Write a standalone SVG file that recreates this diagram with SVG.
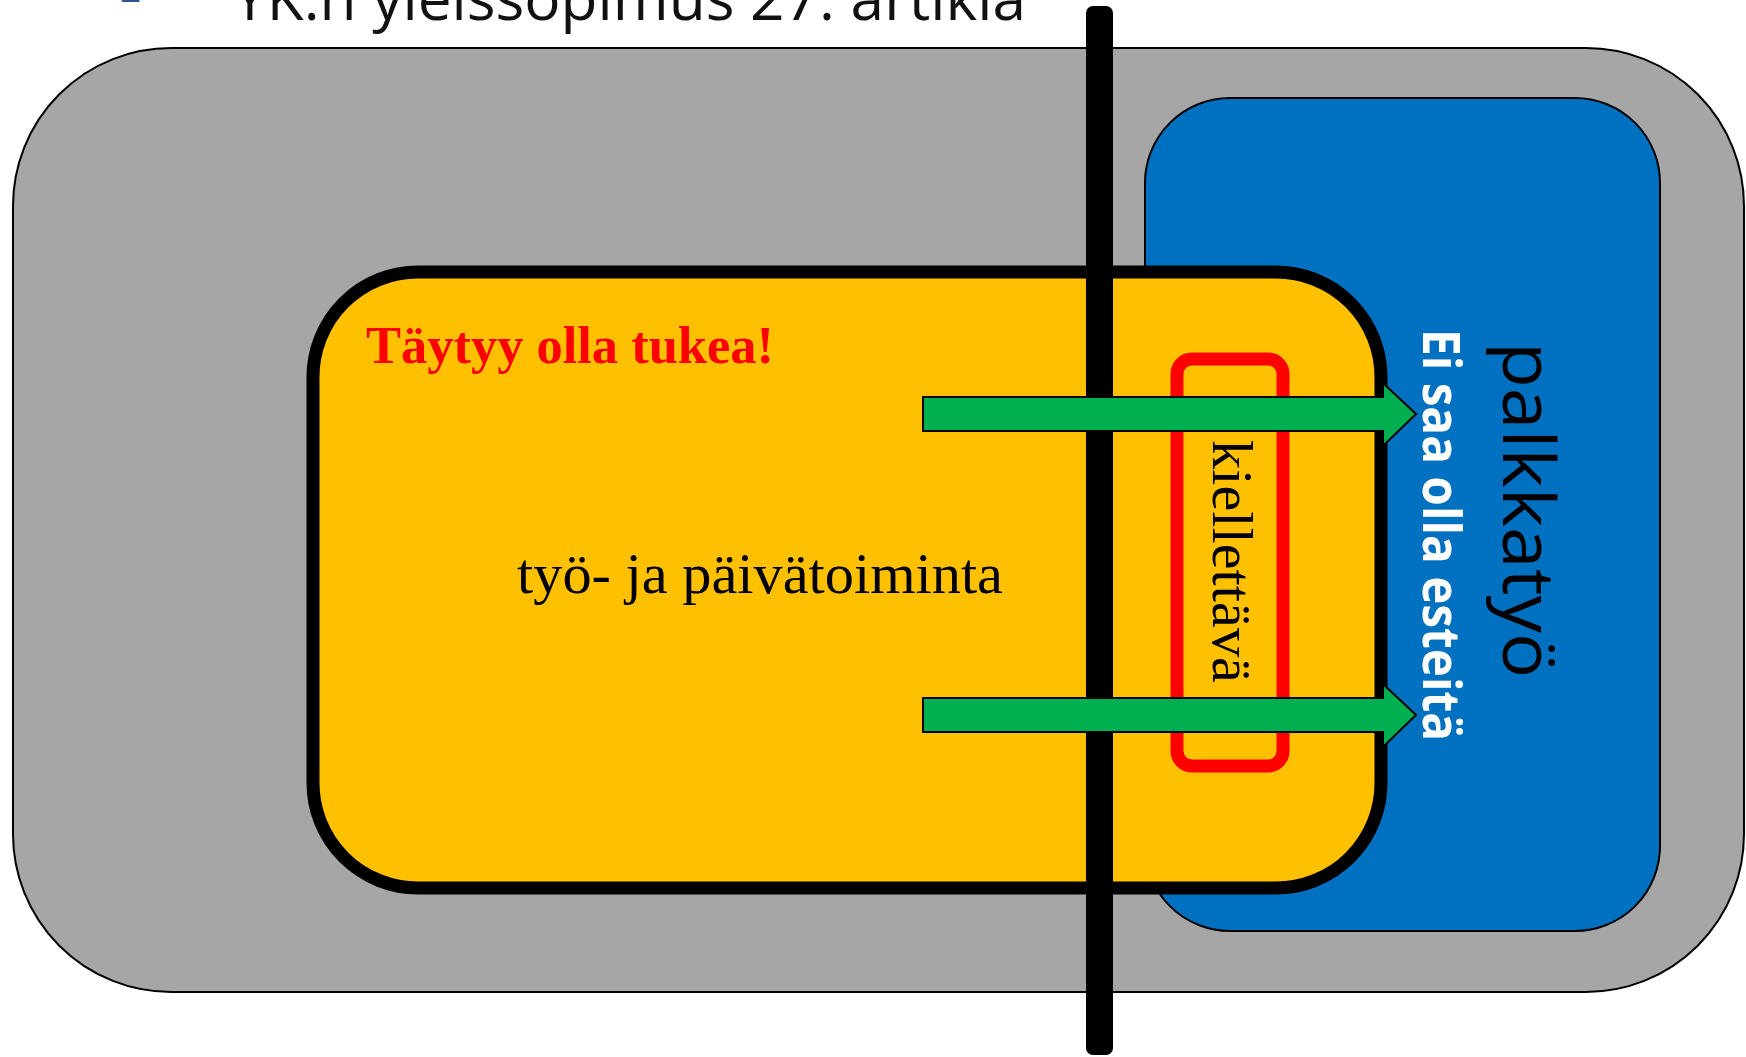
<svg xmlns="http://www.w3.org/2000/svg" width="1746" height="1057" viewBox="0 0 1746 1057">
  <style>
    .serif { font-family: "Liberation Serif", "Times New Roman", serif; }
    .sans { font-family: "Open Sans", "Noto Sans", "DejaVu Sans", sans-serif; }
    .arrow { fill: #00B050; stroke: #000; stroke-width: 2; stroke-linejoin: miter; }
  </style>
  <rect width="1746" height="1057" fill="#ffffff"/>
  <g id="title">
    <text class="sans" x="120" y="12" font-size="42" fill="#2F5597" textLength="21" lengthAdjust="spacingAndGlyphs">–</text>
    <text class="sans" x="233" y="20" font-size="60" fill="#111111" textLength="793" lengthAdjust="spacingAndGlyphs">YK:n yleissopimus 27. artikla</text>
  </g>
  <g id="node-outer">
    <rect x="13" y="48" width="1731" height="944" rx="158" ry="158" fill="#A6A6A6" stroke="#000" stroke-width="2"/>
  </g>
  <g id="node-palkkatyo">
    <rect x="1145" y="98" width="515" height="833" rx="85" ry="85" fill="#0070C0" stroke="#000" stroke-width="2"/>
    <text class="sans" transform="translate(1503,510) rotate(90)" x="0" y="0" font-size="72" fill="#000" text-anchor="middle" textLength="336" lengthAdjust="spacingAndGlyphs">palkkatyö</text>
    <text class="sans" transform="translate(1423,535) rotate(90)" x="0" y="0" font-size="52" font-weight="bold" fill="#ffffff" text-anchor="middle" textLength="412" lengthAdjust="spacingAndGlyphs">Ei saa olla esteitä</text>
  </g>
  <g id="node-paivatoiminta">
    <rect x="313" y="272" width="1068" height="616" rx="105" ry="105" fill="#FFC000" stroke="#000" stroke-width="13"/>
    <text class="serif" x="366" y="363" font-size="52" font-weight="bold" fill="#FF0000" textLength="408" lengthAdjust="spacingAndGlyphs">Täytyy olla tukea!</text>
    <text class="serif" x="517" y="593" font-size="58" fill="#000" textLength="486" lengthAdjust="spacingAndGlyphs">työ- ja päivätoiminta</text>
  </g>
  <g id="node-divider">
    <rect x="1086" y="6" width="27" height="1049" rx="7" ry="7" fill="#000"/>
  </g>
  <g id="node-kiellettava">
    <rect x="1177" y="359" width="106" height="407" rx="15" ry="15" fill="none" stroke="#FF0000" stroke-width="13"/>
    <text class="serif" transform="translate(1213,561.5) rotate(90)" x="0" y="0" font-size="58" fill="#000" text-anchor="middle" textLength="243" lengthAdjust="spacingAndGlyphs">kiellettävä</text>
  </g>
  <g id="connectors">
    <polygon class="arrow" points="923,397 1383,397 1383,383 1416,414 1383,446 1383,431 923,431"/>
    <polygon class="arrow" points="923,698 1383,698 1383,684 1416,715 1383,747 1383,732 923,732"/>
  </g>
</svg>
